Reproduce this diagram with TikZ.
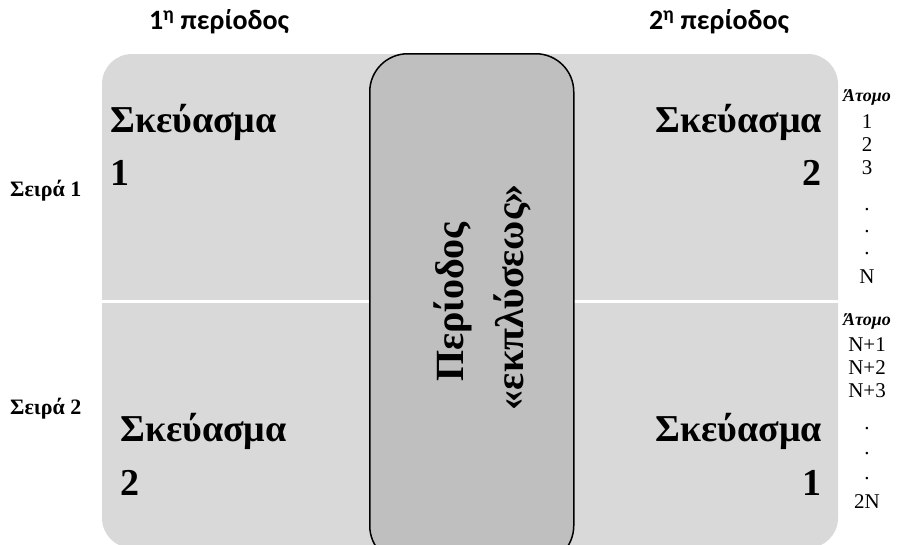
\documentclass[tikz,border=0pt]{standalone}
\usepackage{fontspec}
\setmainfont{Liberation Serif}
\newfontfamily\headfont{Carlito}
\definecolor{panelgrey}{HTML}{D9D9D9}
\definecolor{boxgrey}{HTML}{BFBFBF}
\tikzset{
  head/.style={font=\headfont\bfseries\fontsize{28}{32}\selectfont, inner sep=0pt},
  drug/.style={font=\bfseries\fontsize{38}{44}\selectfont, inner sep=0pt},
  rowlab/.style={font=\bfseries\fontsize{22}{26}\selectfont, inner sep=0pt},
  subj/.style={font=\fontsize{21}{25}\selectfont, inner sep=0pt},
  subjhead/.style={font=\bfseries\itshape\fontsize{18}{22}\selectfont, inner sep=0pt},
  washlab/.style={font=\bfseries\fontsize{40}{46}\selectfont, inner sep=0pt, rotate=90},
}
\begin{document}
\begin{tikzpicture}[x=1pt,y=-1pt]
\useasboundingbox (0,0) rectangle (907,544);
\clip (0,0) rectangle (907,544);
% grey panel
\path[fill=panelgrey, rounded corners=30pt] (102,54) rectangle (838,548);
\path[fill=white] (102,300) rectangle (838,302.5);
% central washout box
\node[draw=black, line width=1.5pt, fill=boxgrey, rounded corners=38pt,
      minimum width=204pt, minimum height=510pt, anchor=north west, inner sep=0pt]
      (wash) at (369,53) {};
\node[washlab] (w1) at (453,302) {Περίοδος};
\node[washlab] (w2) at (512,297) {«εκπλύσεως»};
% headings
\node[head] (p1) at (219,22) {1\textsuperscript{η} περίοδος};
\node[head] (p2) at (719,22) {2\textsuperscript{η} περίοδος};
% row labels
\node[rowlab, anchor=west] (r1) at (10,191) {Σειρά 1};
\node[rowlab, anchor=west] (r2) at (10,409) {Σειρά 2};
% drug labels
\node[drug, anchor=west] (d11) at (110,122) {Σκεύασμα};
\node[drug, anchor=west] (d12) at (110,173) {1};
\node[drug, anchor=east] (d21) at (822,122) {Σκεύασμα};
\node[drug, anchor=east] (d22) at (822,173) {2};
\node[drug, anchor=west] (d31) at (120,431) {Σκεύασμα};
\node[drug, anchor=west] (d32) at (120,483) {2};
\node[drug, anchor=east] (d41) at (822,431) {Σκεύασμα};
\node[drug, anchor=east] (d42) at (822,483) {1};
% subjects sequence 1
\node[subjhead] (s0) at (867,97) {Άτομο};
\node[subj] (s1) at (867,122) {1};
\node[subj] (s2) at (867,145) {2};
\node[subj] (s3) at (867,168) {3};
\node[subj, anchor=base] (s4) at (867,210) {.};
\node[subj, anchor=base] (s5) at (867,232) {.};
\node[subj, anchor=base] (s6) at (867,254) {.};
\node[subj] (s7) at (867,277) {N};
% subjects sequence 2
\node[subjhead] (t0) at (867,321) {Άτομο};
\node[subj] (t1) at (867,345) {N+1};
\node[subj] (t2) at (867,368) {N+2};
\node[subj] (t3) at (867,391) {N+3};
\node[subj, anchor=base] (t4) at (867,429) {.};
\node[subj, anchor=base] (t5) at (867,454) {.};
\node[subj, anchor=base] (t6) at (867,479) {.};
\node[subj] (t7) at (867,502) {2N};
\end{tikzpicture}
\end{document}
